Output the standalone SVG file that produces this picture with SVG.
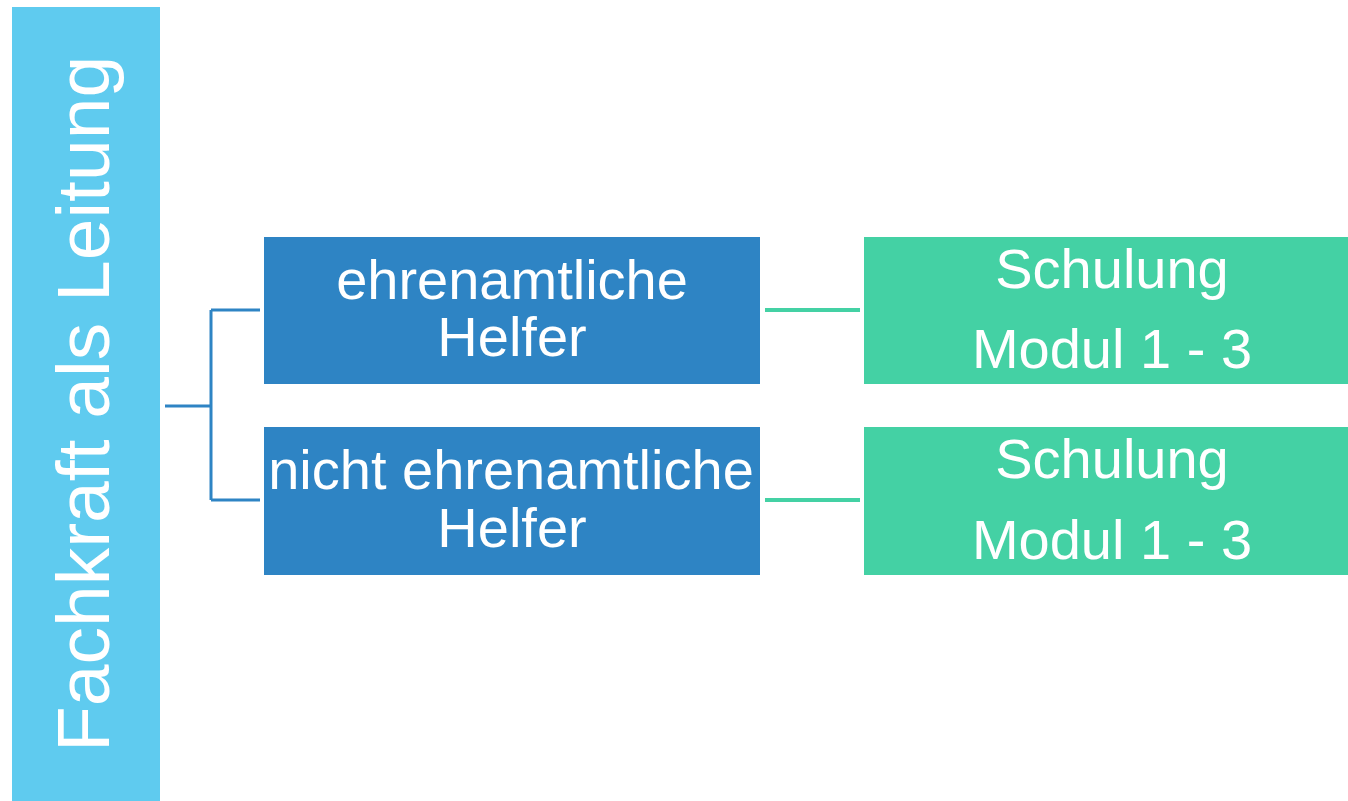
<svg xmlns="http://www.w3.org/2000/svg" width="1348" height="801" viewBox="0 0 1348 801">
<style>
text{font-family:"Liberation Sans",Arial,sans-serif;fill:#fff;text-anchor:middle}
.lbl{font-size:56px}
.blue{fill:#2E84C4}
.green{fill:#44D1A4}
.cb{stroke:#2E84C4;stroke-width:3;fill:none}
.cg{stroke:#44D1A4;stroke-width:4;fill:none}
</style>
<rect width="1348" height="801" fill="#fff"/>
<g id="root">
<rect x="12" y="7" width="148" height="794" fill="#5FCBEF"/>
<text transform="translate(109,404) rotate(-90)" style="font-size:75px">Fachkraft als Leitung</text>
</g>
<g id="connectors">
<path class="cb" d="M165 406 H211 M211 310 V500 M211 310 H260 M211 500 H260"/>
<path class="cg" d="M765 310 H860 M765 500 H860"/>
</g>
<g id="n1">
<rect class="blue" x="264" y="237" width="496" height="147"/>
<text class="lbl" x="512" y="299">ehrenamtliche</text>
<text class="lbl" x="512" y="356">Helfer</text>
</g>
<g id="n2">
<rect class="blue" x="264" y="427" width="496" height="148"/>
<text class="lbl" x="511" y="489">nicht ehrenamtliche</text>
<text class="lbl" x="512" y="547">Helfer</text>
</g>
<g id="n3">
<rect class="green" x="864" y="237" width="484" height="147"/>
<text class="lbl" x="1112" y="288">Schulung</text>
<text class="lbl" x="1112" y="368">Modul 1 - 3</text>
</g>
<g id="n4">
<rect class="green" x="864" y="427" width="484" height="148"/>
<text class="lbl" x="1112" y="478">Schulung</text>
<text class="lbl" x="1112" y="559">Modul 1 - 3</text>
</g>
</svg>
